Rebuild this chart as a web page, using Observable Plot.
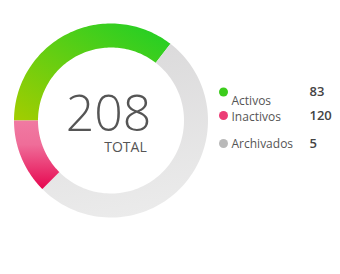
<!DOCTYPE html>
<html><head><meta charset="utf-8">
<script src="https://cdn.jsdelivr.net/npm/d3@7"></script>
<script src="https://cdn.jsdelivr.net/npm/@observablehq/plot@0.6"></script>
<style>body{margin:0;background:#fff} #chart{width:340px;height:274px}</style>
</head><body><div id="chart"></div>
<script>
// ---- data ----
const categories = ["Activos", "Inactivos", "Archivados"];
const counts = [83, 120, 5];
const total = 208;
const totalLabel = "TOTAL";
// ring arcs, clockwise starting at 9 o'clock, as percent of the full circle
const arcOrder = ["Activos", "Archivados", "Inactivos"];
const arcShares = [35.5, 52, 12.5];

// ---- layout ----
const W = 340, H = 274;
const cx = 110.5, cy = 120, R = 97, r = 73;
const startDeg = 270;
const dotX = 223, labelX = 231, valueX = 309;
const dotY = [91.5, 115, 143];
const labelBase = [104, 120, 147];
const valueBase = [95.5, 119.5, 147.5];
const dotColors = ["#3ccc1c", "#ec3d76", "#b9b9b9"];
const gradIds = {Activos: "gActivos", Inactivos: "gInactivos", Archivados: "gArchivados"};

// build ring polygons from shares
const segs = [];
let acc = startDeg;
arcOrder.forEach((name, i) => {
  const a0 = acc, a1 = acc + arcShares[i] * 3.6;
  acc = a1;
  const pts = [];
  const n = 90;
  for (let k = 0; k <= n; k++) {
    const a = (a0 + (a1 - a0) * k / n) * Math.PI / 180;
    pts.push({x: cx + R * Math.sin(a), y: cy - R * Math.cos(a)});
  }
  for (let k = n; k >= 0; k--) {
    const a = (a0 + (a1 - a0) * k / n) * Math.PI / 180;
    pts.push({x: cx + r * Math.sin(a), y: cy - r * Math.cos(a)});
  }
  segs.push({name, pts});
});

const legend = categories.map((c, i) => ({c, v: counts[i], i}));

function defsMark() {
  const defs = d3.create("svg:defs");
  const g1 = defs.append("linearGradient").attr("id", "gActivos")
    .attr("x1", 0).attr("y1", 1).attr("x2", 1).attr("y2", 0);
  g1.append("stop").attr("offset", 0).attr("stop-color", "#a3cd00");
  g1.append("stop").attr("offset", 1).attr("stop-color", "#1ccf27");
  const g2 = defs.append("linearGradient").attr("id", "gInactivos")
    .attr("x1", 0).attr("y1", 0).attr("x2", 0).attr("y2", 1);
  g2.append("stop").attr("offset", 0).attr("stop-color", "#f07aa2");
  g2.append("stop").attr("offset", 0.35).attr("stop-color", "#ef6d99");
  g2.append("stop").attr("offset", 1).attr("stop-color", "#e6064f");
  const g3 = defs.append("linearGradient").attr("id", "gArchivados")
    .attr("x1", 0.3).attr("y1", 0).attr("x2", 0.5).attr("y2", 1);
  g3.append("stop").attr("offset", 0).attr("stop-color", "#dad9da");
  g3.append("stop").attr("offset", 1).attr("stop-color", "#ebebeb");
  return defs.node();
}

const chart = Plot.plot({
  width: W, height: H,
  margin: 0,
  x: {domain: [0, W], range: [0, W], axis: null},
  y: {domain: [0, H], range: [0, H], axis: null},
  style: {fontFamily: "'Open Sans', sans-serif", background: "#fff"},
  marks: [
    defsMark,
    ...segs.map(s => Plot.line(s.pts, {x: "x", y: "y", fill: `url(#${gradIds[s.name]})`, stroke: "none", curve: "linear"})),
    Plot.text([total], {x: cx - 2.5, y: 130, text: d => String(d), fontSize: 50, fontWeight: 300, fill: "#555", textAnchor: "middle", lineAnchor: "bottom"}),
    Plot.text([totalLabel], {x: 125, y: 151, text: d => d, fontSize: 14, fill: "#555", textAnchor: "middle", lineAnchor: "bottom"}),
    Plot.dot(legend, {x: dotX, y: d => dotY[d.i], r: 4.5, fill: d => dotColors[d.i], stroke: "none"}),
    Plot.text(legend, {x: labelX, y: d => labelBase[d.i], text: "c", fontSize: 12, fill: "#555", textAnchor: "start", lineAnchor: "bottom"}),
    Plot.text(legend, {x: valueX, y: d => valueBase[d.i], text: d => String(d.v), fontSize: 13, fontWeight: 600, fill: "#444", textAnchor: "start", lineAnchor: "bottom"})
  ]
});
document.getElementById("chart").appendChild(chart);
</script>
</body></html>
